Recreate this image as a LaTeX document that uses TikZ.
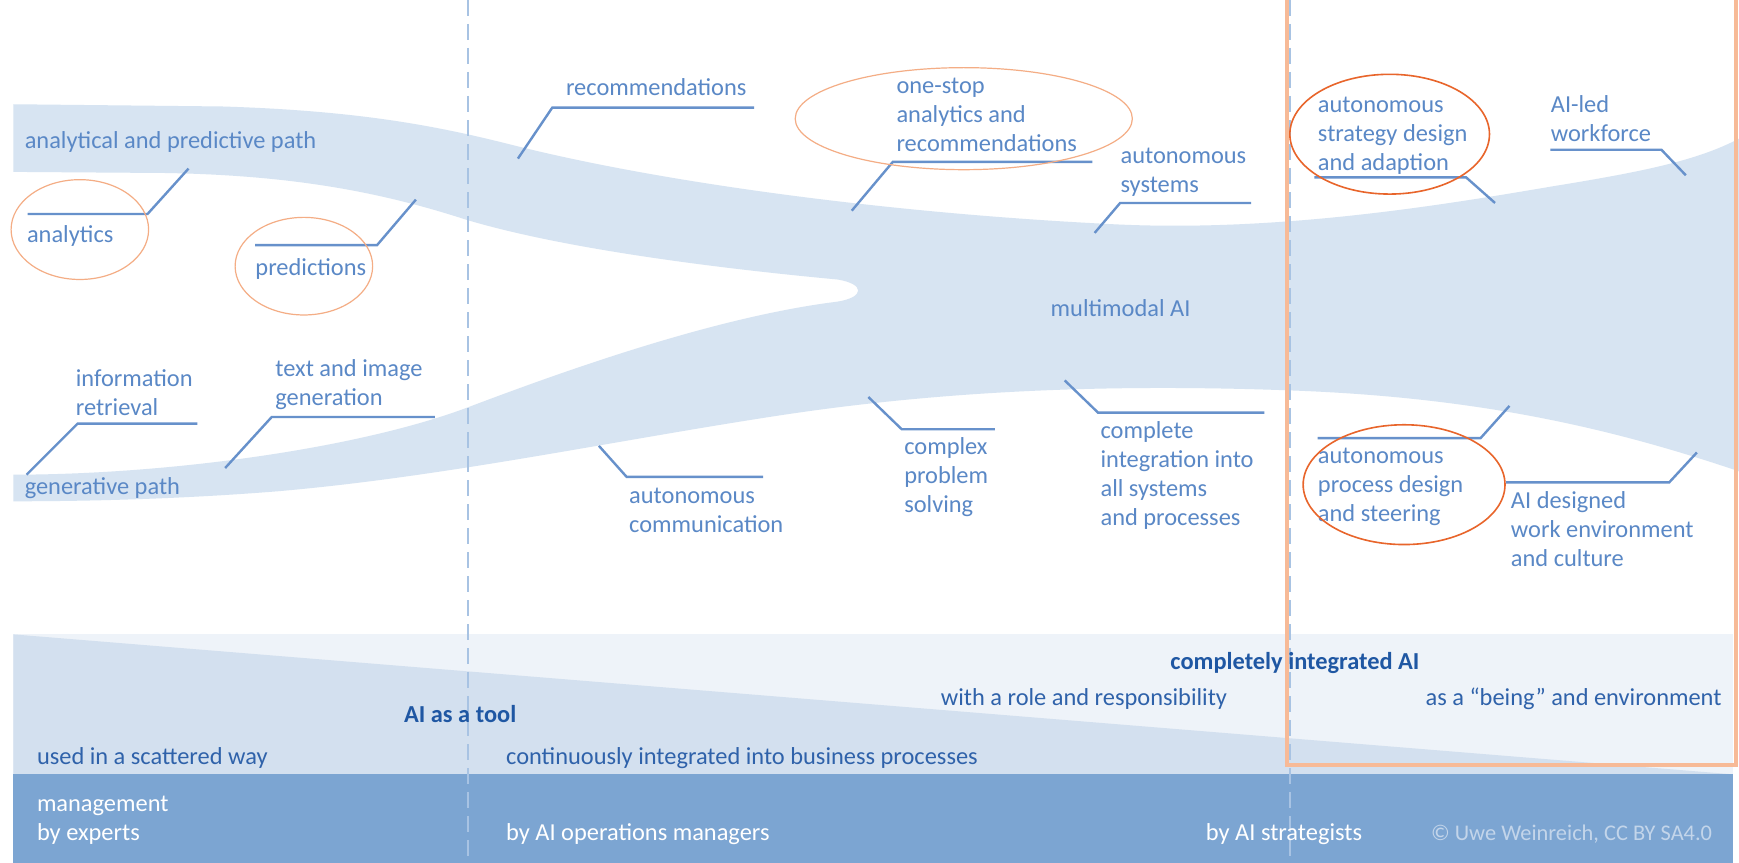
\documentclass[tikz,border=0pt]{standalone}
\usepackage{fontspec}
\setmainfont{Carlito}
\definecolor{streamblue}{HTML}{D7E4F2}
\definecolor{txtblue}{HTML}{5A88C6}
\definecolor{leadblue}{HTML}{6791CB}
\definecolor{dashblue}{HTML}{A8C3E3}
\definecolor{boldblue}{HTML}{1F57A3}
\definecolor{midblue}{HTML}{2F62AA}
\definecolor{paleband}{HTML}{EEF3F9}
\definecolor{wedgeblue}{HTML}{D3E0EF}
\definecolor{darkband}{HTML}{7CA5D2}
\definecolor{copyblue}{HTML}{C3D5EA}
\definecolor{ringlight}{HTML}{F4AD85}
\definecolor{ringdark}{HTML}{E8652B}
\definecolor{framered}{HTML}{F7BA97}

\begin{document}
\begin{tikzpicture}[x=0.5545pt, y=-0.5545pt,
    lbl/.style={text=txtblue, font=\fontsize{12.2}{14.5}\selectfont, inner sep=0, anchor=base west, align=left},
    bandlbl/.style={lbl, text=midblue},
    tag/.style={lbl, text=boldblue, font=\fontsize{12.2}{14.5}\selectfont\bfseries},
    mgmt/.style={lbl, text=white},
    leader/.style={draw=leadblue, line width=1.2pt},
    divider/.style={draw=dashblue, line width=1.1pt, dash pattern=on 8pt off 4pt},
    ring/.style={draw=ringlight, line width=0.6pt},
    ringd/.style={draw=ringdark, line width=0.8pt}]
        \useasboundingbox (0,0) rectangle (1568,778);
        \fill[white] (0,0) rectangle (1568,778);

        \fill[streamblue] (12,94) -- (200,96) .. controls (330,100) and (400,115) .. (467,132)
            .. controls (600,165) and (800,192) .. (1000,202)
            .. controls (1150,210) and (1300,185) .. (1400,168)
            .. controls (1480,155) and (1530,145) .. (1568,125) -- (1568,425)
            .. controls (1450,385) and (1330,358) .. (1163,352)
            .. controls (1000,346) and (850,352) .. (700,375)
            .. controls (550,398) and (400,430) .. (250,443)
            .. controls (150,451) and (60,452) .. (12,452) -- (12,428)
            .. controls (150,428) and (320,405) .. (420,368)
            .. controls (520,330) and (650,285) .. (755,272)
            .. controls (780,268) and (780,256) .. (755,252)
            .. controls (680,245) and (520,228) .. (420,198)
            .. controls (340,172) and (260,158) .. (150,156) -- (12,155) -- cycle;

        \fill[paleband] (12,572) rectangle (1563,698);
        \fill[wedgeblue] (12,572) -- (1560,698) -- (12,698) -- cycle;
        \fill[darkband] (12,698) rectangle (1563,778);

        \draw[divider] (422,0) -- (422,778);
        \draw[divider] (1163,0) -- (1163,778);

        \coordinate (sAna) at (170,152);
        \coordinate (sPred) at (375,180);
        \coordinate (sReco) at (467,143);
        \coordinate (sStop) at (768,190);
        \coordinate (sAsys) at (987,210);
        \coordinate (sAstrat) at (1348,183);
        \coordinate (sLed) at (1520,158);
        \coordinate (sInfo) at (24,428);
        \coordinate (sGen) at (203,422);
        \coordinate (sAcomm) at (540,402);
        \coordinate (sCplx) at (783,358);
        \coordinate (sCint) at (960,343);
        \coordinate (sAproc) at (1361,366);
        \coordinate (sAdsg) at (1530,408);

        \draw[leader] (sAna) -- ++(-37,41) -- ++(-108,0);
        \draw[leader] (sPred) -- ++(-35,41) -- ++(-110,0);
        \draw[leader] (sReco) -- ++(31,-46) -- ++(182,0);
        \draw[leader] (sStop) -- ++(37,-44) -- ++(180,0);
        \draw[leader] (sAsys) -- ++(23,-27) -- ++(118,0);
        \draw[leader] (sAstrat) -- ++(-26,-23) -- ++(-137,0);
        \draw[leader] (sLed) -- ++(-22,-23) -- ++(-100,0);
        \draw[leader] (sInfo) -- ++(46,-46) -- ++(108,0);
        \draw[leader] (sGen) -- ++(42,-46) -- ++(147,0);
        \draw[leader] (sAcomm) -- ++(25,28) -- ++(123,0);
        \draw[leader] (sCplx) -- ++(30,29) -- ++(84,0);
        \draw[leader] (sCint) -- ++(30,29) -- ++(150,0);
        \draw[leader] (sAproc) -- ++(-26,29) -- ++(-147,0);
        \draw[leader] (sAdsg) -- ++(-25,27) -- ++(-147,0);

        \node[lbl] (apath) at (22,134) {analytical and predictive path};
        \node[lbl] (ana) at (24,219) {analytics};
        \node[lbl] (pred) at (230,248) {predictions};
        \node[lbl] (reco) at (510,86) {recommendations};
        \node[lbl] (stop) at (808,137) {one-stop\\analytics and\\recommendations};
        \node[lbl] (asys) at (1010,174) {autonomous\\systems};
        \node[lbl] (astrat) at (1188,154) {autonomous\\strategy design\\and adaption};
        \node[lbl] (led) at (1398,128) {AI-led\\workforce};
        \node[lbl] (multi) at (947,285) {multimodal AI};
        \node[lbl] (info) at (68,375) {information\\retrieval};
        \node[lbl] (gen) at (248,366) {text and image\\generation};
        \node[lbl] (gpath) at (22,446) {generative path};
        \node[lbl] (acomm) at (567,480) {autonomous\\communication};
        \node[lbl] (cplx) at (815,462) {complex\\problem\\solving};
        \node[lbl] (cint) at (992,474) {complete\\integration into\\all systems\\and processes};
        \node[lbl] (aproc) at (1188,470) {autonomous\\process design\\and steering};
        \node[lbl] (adsg) at (1362,511) {AI designed\\work environment\\and culture};

        \node[tag] (full) at (1055,604) {completely integrated AI};
        \node[bandlbl] (role) at (848,636) {with a role and responsibility};
        \node[bandlbl] (being) at (1285,636) {as a “being” and environment};
        \node[tag] (tool) at (364,651) {AI as a tool};
        \node[bandlbl] (scat) at (33,689) {used in a scattered way};
        \node[bandlbl] (cont) at (456,689) {continuously integrated into business processes};
        \node[mgmt] (mexp) at (33,758) {management\\by experts};
        \node[mgmt] (mops) at (456,758) {by AI operations managers};
        \node[mgmt] (mstr) at (1087,758) {by AI strategists};
        \node[mgmt, text=copyblue, font=\fontsize{11.2}{13}\selectfont] (copy) at (1290,758) {© Uwe Weinreich, CC BY SA4.0};

        \draw[ring] (72,207) ellipse [x radius=62, y radius=45];
        \draw[ring] (274,240) ellipse [x radius=62, y radius=44];
        \draw[ring] (869,107) ellipse [x radius=152, y radius=46];
        \draw[ringd] (1253,121) ellipse [x radius=90, y radius=54];
        \draw[ringd] (1266,437) ellipse [x radius=91, y radius=54];

        \draw[draw=framered, line width=2pt] (1160,-5) -- (1160,690) -- (1565,690) -- (1565,-5);
\end{tikzpicture}
\end{document}
